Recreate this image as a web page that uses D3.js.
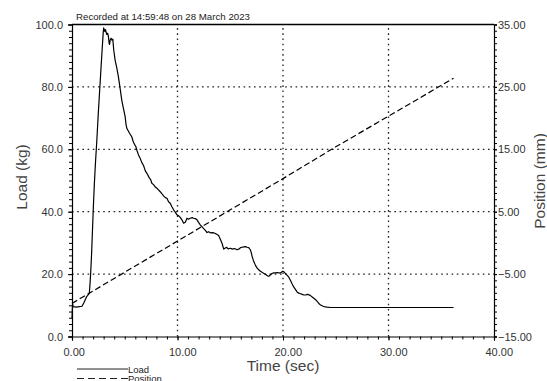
<!DOCTYPE html>
<html>
<head>
<meta charset="utf-8">
<script src="https://cdn.jsdelivr.net/npm/d3@7"></script>
<style>
    body { margin: 0; background: #fff; }
    text { font-family: "Liberation Sans", Arial, sans-serif; }
</style>
</head>
<body>
<script>
// Load (kg) against time (sec)
var loadTime = [0.00, 0.03, 0.06, 0.12, 0.40, 0.70, 0.95, 1.15, 1.39, 1.55,
    1.64, 1.72, 1.77, 1.85, 1.93, 2.03, 2.12, 2.23, 2.34, 2.50, 2.66, 2.82,
    2.95, 3.00, 3.06, 3.12, 3.18, 3.23, 3.30, 3.38, 3.45, 3.52, 3.56, 3.62,
    3.70, 3.78, 3.87, 3.95, 4.09, 4.25, 4.40, 4.56, 4.72, 4.88, 5.04, 5.12,
    5.20, 5.35, 5.50, 5.67, 5.80, 5.92, 6.05, 6.15, 6.30, 6.46, 6.60, 6.78,
    6.95, 7.10, 7.30, 7.45, 7.57, 7.75, 7.90, 8.05, 8.20, 8.36, 8.55, 8.70,
    8.85, 9.00, 9.15, 9.31, 9.47, 9.63, 9.80, 9.95, 10.10, 10.26, 10.42,
    10.58, 10.74, 10.90, 11.05, 11.20, 11.40, 11.53, 11.69, 11.85, 12.00,
    12.16, 12.32, 12.48, 12.64, 12.80, 12.95, 13.15, 13.35, 13.59, 13.75,
    13.90, 14.06, 14.22, 14.38, 14.50, 14.65, 14.80, 15.01, 15.20, 15.40,
    15.65, 15.85, 16.00, 16.12, 16.27, 16.45, 16.60, 16.75, 16.90, 17.00,
    17.07, 17.20, 17.39, 17.55, 17.70, 17.86, 18.05, 18.20, 18.40, 18.55,
    18.65, 18.80, 18.95, 19.13, 19.30, 19.50, 19.70, 19.85, 19.95, 20.07,
    20.20, 20.40, 20.55, 20.70, 20.87, 21.03, 21.19, 21.35, 21.50, 21.66,
    21.82, 21.98, 22.15, 22.30, 22.45, 22.61, 22.80, 22.95, 23.09, 23.30,
    23.45, 23.56, 23.80, 24.00, 24.20, 24.51, 26.00, 28.00, 30.00, 32.00,
    34.00, 36.17];
var loadKg = [5.8, 8.5, 10.4, 9.6, 9.4, 9.6, 9.7, 11.0, 12.8, 13.4,
    13.8, 17.5, 20.3, 26.0, 33.0, 42.0, 49.0, 56.0, 62.0, 72.0, 81.0, 90.0,
    97.0, 98.9, 98.2, 97.8, 98.4, 97.5, 96.8, 97.2, 96.2, 94.0, 93.6, 95.0,
    95.6, 95.0, 95.3, 92.0, 88.5, 86.0, 83.2, 79.5, 75.7, 73.0, 70.4, 68.0,
    66.7, 65.8, 64.9, 64.0, 62.5, 61.6, 60.9, 59.7, 58.2, 57.1, 55.9, 54.8,
    53.1, 52.3, 51.0, 50.3, 49.1, 48.6, 47.9, 47.5, 47.0, 46.4, 45.6, 45.0,
    44.5, 44.3, 43.2, 42.7, 41.6, 40.6, 39.8, 39.0, 38.7, 38.2, 37.4,
    36.3, 36.6, 37.9, 37.6, 37.9, 38.1, 37.9, 37.8, 37.4, 36.6,
    35.8, 35.2, 34.6, 34.0, 33.3, 33.6, 33.2, 33.3, 33.0, 32.7,
    32.4, 31.2, 29.9, 28.0, 28.3, 28.6, 28.1, 28.3, 28.0, 28.2,
    27.8, 28.1, 28.5, 28.6, 28.7, 28.8, 28.6, 28.5, 27.8, 26.8,
    25.7, 24.3, 22.8, 21.9, 21.4, 20.9, 20.5, 20.2, 19.8, 19.4,
    19.3, 19.7, 20.2, 20.4, 20.4, 20.5, 20.3, 20.6, 20.9, 20.8,
    20.3, 19.6, 19.0, 18.0, 16.8, 15.8, 15.0, 14.2, 13.9, 13.7,
    13.5, 13.3, 13.3, 13.5, 13.4, 13.1, 12.6, 12.2, 11.8, 11.0,
    10.4, 10.1, 9.7, 9.5, 9.4, 9.3, 9.3, 9.3, 9.3, 9.3,
    9.3, 9.3];

// Position (mm) against time (sec)
var posTime = [0.0, 5.0, 10.0, 15.0, 20.0, 25.0, 30.0, 36.17];
var posMm = [-9.7, -4.7, 0.3, 5.3, 10.3, 15.4, 20.3, 26.4];

// Tick labels
var timeTicks = [0, 10, 20, 30, 40];
var loadTicks = [0, 20, 40, 60, 80, 100];
var posTicks = [-15, -5, 5, 15, 25, 35];

var width = 547, height = 381;

var svg = d3.select("body").append("svg")
    .attr("width", width)
    .attr("height", height);

var x = d3.scaleLinear().domain([0, 40]).range([72, 494]);
var yLoad = d3.scaleLinear().domain([0, 100]).range([336.5, 24.5]);
var yPos = d3.scaleLinear().domain([-15, 35]).range([336.5, 24.5]);

// dotted grid
svg.selectAll(".vgrid")
    .data(timeTicks.slice(1, 4))
    .enter().append("line")
    .attr("x1", d => x(d)).attr("x2", d => x(d))
    .attr("y1", yLoad(0)).attr("y2", yLoad(100))
    .attr("stroke", "#222").attr("stroke-width", 1.3)
    .attr("stroke-dasharray", "1.6,3.6");

svg.selectAll(".hgrid")
    .data(loadTicks.slice(1, 5))
    .enter().append("line")
    .attr("y1", d => yLoad(d)).attr("y2", d => yLoad(d))
    .attr("x1", x(0)).attr("x2", x(40))
    .attr("stroke", "#222").attr("stroke-width", 1.3)
    .attr("stroke-dasharray", "1.6,3.6");

// top border
svg.append("line")
    .attr("x1", x(0)).attr("x2", x(40))
    .attr("y1", yLoad(100)).attr("y2", yLoad(100))
    .attr("stroke", "#000").attr("stroke-width", 1.3);

// minor ticks first, then the labelled axes
function minor(g) {
    g.select(".domain").remove();
    g.selectAll("line").attr("stroke", "#000");
}

svg.append("g")
    .attr("transform", "translate(0," + yLoad(0) + ")")
    .call(d3.axisBottom(x).tickValues(d3.range(0, 41, 1))
        .tickSize(3).tickFormat(""))
    .call(minor);

svg.append("g")
    .attr("transform", "translate(" + x(0) + ",0)")
    .call(d3.axisLeft(yLoad).tickValues(d3.range(0, 101, 2))
        .tickSize(3).tickFormat(""))
    .call(minor);

svg.append("g")
    .attr("transform", "translate(" + x(40) + ",0)")
    .call(d3.axisRight(yPos).tickValues(d3.range(-15, 36, 1))
        .tickSize(3).tickFormat(""))
    .call(minor);

function styleAxis(g) {
    g.select(".domain").attr("stroke", "#000").attr("stroke-width", 1.2);
    g.selectAll("line").attr("stroke", "#000");
    g.selectAll("text")
        .attr("fill", "#333")
        .style("font-size", "11px")
        .style("font-family", "'Liberation Sans', Arial, sans-serif");
}

var xAxisG = svg.append("g")
    .attr("transform", "translate(0," + yLoad(0) + ")")
    .call(d3.axisBottom(x).tickValues(timeTicks).tickSizeOuter(0)
        .tickSize(4).tickFormat(d3.format(".2f")))
    .call(styleAxis);
xAxisG.selectAll("text")
    .attr("text-anchor", "start")
    .attr("x", -9)
    .attr("dy", null)
    .attr("y", 19.5);

svg.append("g")
    .attr("transform", "translate(" + x(0) + ",0)")
    .call(d3.axisLeft(yLoad).tickValues(loadTicks).tickSizeOuter(0)
        .tickSize(4).tickPadding(5).tickFormat(d3.format(".1f")))
    .call(styleAxis);

svg.append("g")
    .attr("transform", "translate(" + x(40) + ",0)")
    .call(d3.axisRight(yPos).tickValues(posTicks).tickSizeOuter(0)
        .tickSize(3).tickPadding(1).tickFormat(d3.format(".2f")))
    .call(styleAxis);

// series
var loadLine = d3.line()
    .x((d, i) => x(loadTime[i]))
    .y(d => yLoad(d));

svg.append("path")
    .datum(loadKg)
    .attr("d", loadLine)
    .attr("fill", "none")
    .attr("stroke", "#000")
    .attr("stroke-width", 1.2)
    .attr("stroke-linejoin", "round");

var posLine = d3.line()
    .x((d, i) => x(posTime[i]))
    .y(d => yPos(d));

svg.append("path")
    .datum(posMm)
    .attr("d", posLine)
    .attr("fill", "none")
    .attr("stroke", "#000")
    .attr("stroke-width", 1.2)
    .attr("stroke-dasharray", "6,3");

// titles
svg.append("text")
    .attr("x", 76).attr("y", 20)
    .attr("fill", "#222")
    .style("font-size", "9.7px")
    .text("Recorded at 14:59:48 on 28 March 2023");

svg.append("text")
    .attr("transform", "translate(27,177) rotate(-90)")
    .attr("text-anchor", "middle")
    .attr("fill", "#444")
    .style("font-size", "15.5px")
    .text("Load (kg)");

svg.append("text")
    .attr("transform", "translate(545,181) rotate(-90)")
    .attr("text-anchor", "middle")
    .attr("fill", "#444")
    .style("font-size", "15.5px")
    .text("Position (mm)");

svg.append("text")
    .attr("x", x(20)).attr("y", 371)
    .attr("text-anchor", "middle")
    .attr("fill", "#444")
    .style("font-size", "15.5px")
    .text("Time (sec)");

// legend
var legend = [
    {name: "Load", dash: null, y: 369},
    {name: "Position", dash: "7,4", y: 378.5}
];
legend.forEach(function(l) {
    svg.append("line")
        .attr("x1", 77).attr("x2", 128)
        .attr("y1", l.y).attr("y2", l.y)
        .attr("stroke", "#222")
        .attr("stroke-width", 1.2)
        .attr("stroke-dasharray", l.dash);
    svg.append("text")
        .attr("x", 128).attr("y", l.y + 3.5)
        .attr("fill", "#222")
        .style("font-size", "9.5px")
        .text(l.name);
});
</script>
</body>
</html>
